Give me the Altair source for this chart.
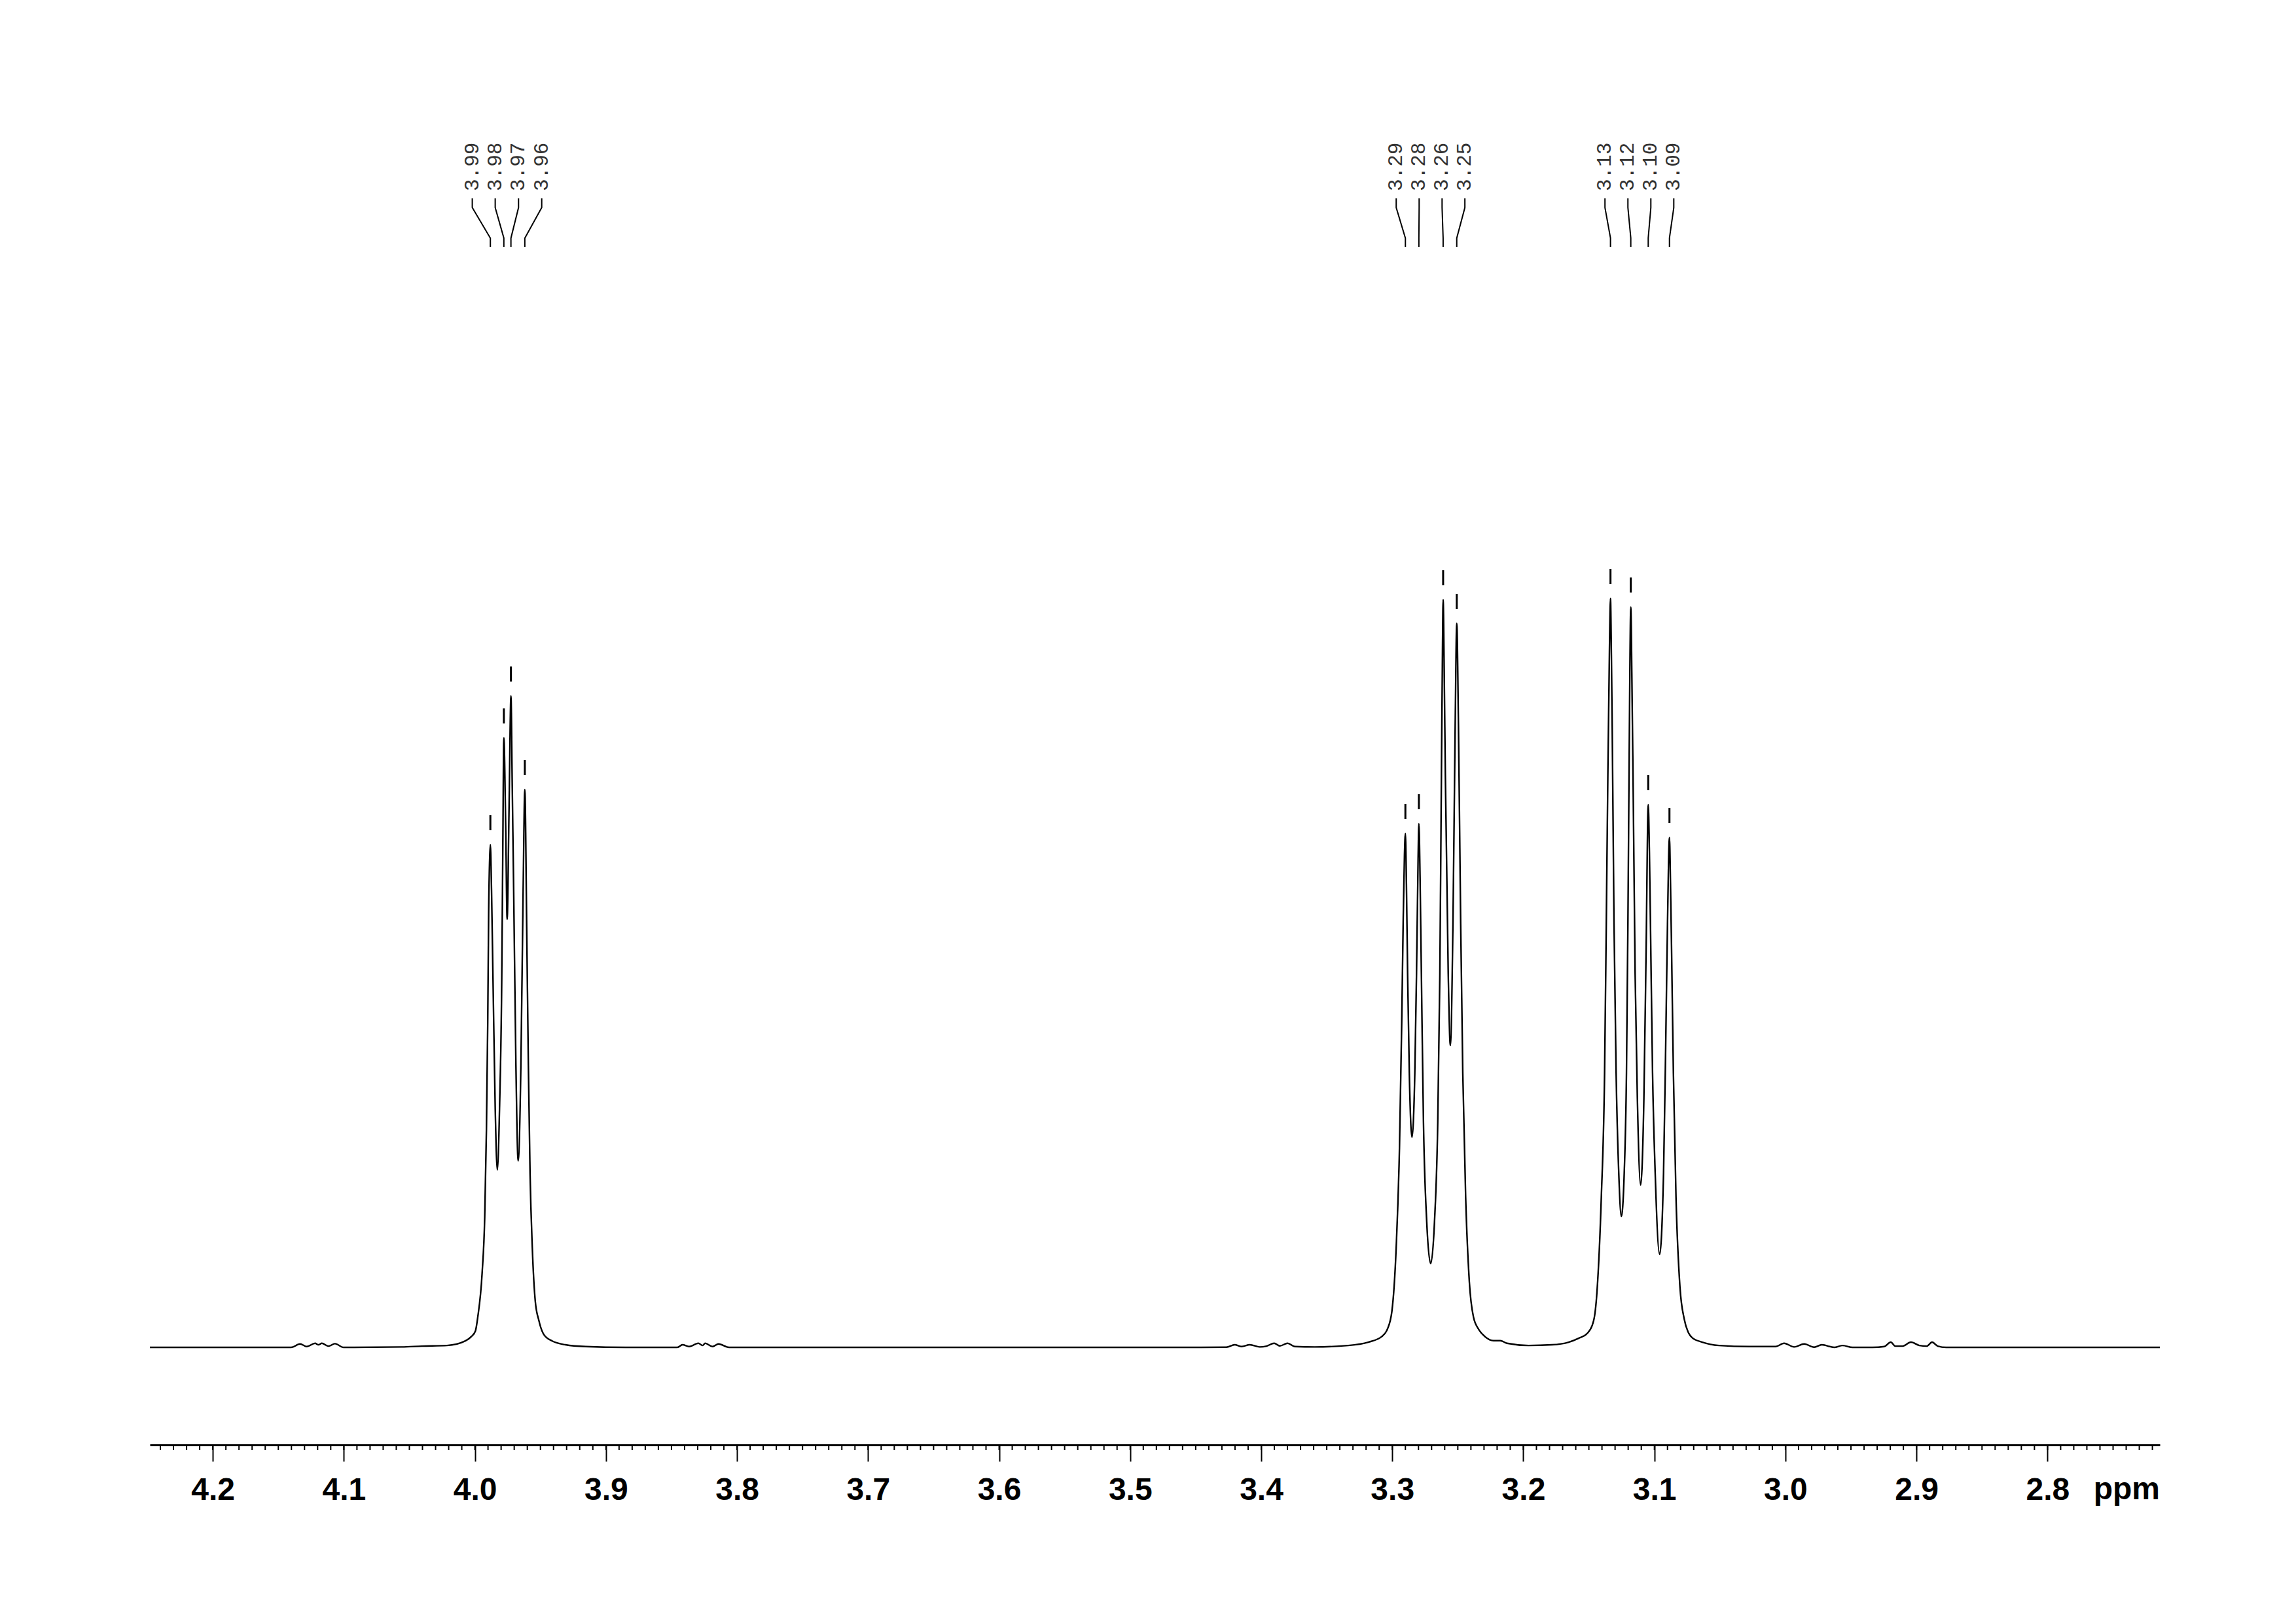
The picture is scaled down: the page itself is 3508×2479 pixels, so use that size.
import altair as alt
import pandas as pd

# ---------------- data ----------------
spec_ppm = [
    4.2480, 4.1402, 4.1334, 4.1283, 4.1219, 4.1194, 4.1168, 4.1117, 4.1067, 4.1002,
    4.0558, 4.0403, 4.0213, 4.0073, 4.0028, 3.9996, 3.9978, 3.9945, 3.9925, 3.9912,
    3.9902, 3.9895, 3.9887, 3.9882, 3.9873, 3.9862, 3.9845, 3.9829, 3.9812, 3.9795,
    3.9787, 3.9779, 3.9765, 3.9754, 3.9739, 3.9725, 3.9715, 3.9704, 3.9687, 3.9670,
    3.9649, 3.9632, 3.9619, 3.9604, 3.9592, 3.9579, 3.9562, 3.9539, 3.9512, 3.9474,
    3.9410, 3.9309, 3.9155, 3.8850,
    3.8455, 3.8416, 3.8365, 3.8295, 3.8263, 3.8243, 3.8187, 3.8141, 3.8061,
    3.4610, 3.4266, 3.4202, 3.4151, 3.4087, 3.4011, 3.3960, 3.3901, 3.3858, 3.3799, 3.3743,
    3.3591, 3.3336, 3.3183, 3.3081, 3.3037, 3.3003, 3.2970, 3.2945, 3.2928, 3.2917, 3.2907,
    3.2900, 3.2892, 3.2883, 3.2870, 3.2850, 3.2828, 3.2815, 3.2803, 3.2797, 3.2788, 3.2778,
    3.2762, 3.2737, 3.2707, 3.2678, 3.2653, 3.2637, 3.2625, 3.2617, 3.2612, 3.2604, 3.2595,
    3.2573, 3.2557, 3.2537, 3.2520, 3.2508, 3.2495, 3.2478, 3.2462, 3.2440, 3.2412, 3.2380,
    3.2342, 3.2291, 3.2227, 3.2176, 3.2125, 3.1960, 3.1781, 3.1654, 3.1578, 3.1513, 3.1463,
    3.1438, 3.1405, 3.1380, 3.1367, 3.1355, 3.1343, 3.1335, 3.1328, 3.1322, 3.1308, 3.1292,
    3.1272, 3.1252, 3.1230, 3.1213, 3.1202, 3.1192, 3.1180, 3.1172, 3.1163, 3.1147, 3.1130,
    3.1105, 3.1080, 3.1063, 3.1047, 3.1038, 3.1030, 3.1014, 3.0994, 3.0960, 3.0930, 3.0914,
    3.0900, 3.0885, 3.0877, 3.0869, 3.0855, 3.0835, 3.0805, 3.0772, 3.0739, 3.0711, 3.0634,
    3.0507, 3.0278, 3.0075, 3.0010, 2.9934, 2.9857, 2.9781, 2.9722, 2.9628, 2.9564, 2.9488,
    2.9336, 2.9246, 2.9196, 2.9162, 2.9106, 2.9042, 2.8978, 2.8922, 2.8881, 2.8838, 2.8774,
    2.7143,
]
spec_int = [
    0.00, 0.00, 0.46, 0.11, 0.55, 0.35, 0.55, 0.17, 0.50, 0.00,
    0.06, 0.17, 0.26, 0.87, 1.44, 2.19, 4.06, 9.88, 17.40, 29.02,
    43.48, 57.97, 65.51, 67.13, 61.01, 49.30, 31.91, 23.69, 31.91, 49.30,
    66.70, 81.38, 69.58, 57.17, 72.38, 86.98, 75.00, 60.87, 37.67, 24.91,
    37.67, 60.87, 74.48, 55.07, 37.67, 23.16, 13.33, 6.12, 3.61, 1.72,
    0.85, 0.35, 0.11, 0.00,
    0.00, 0.35, 0.11, 0.55, 0.26, 0.55, 0.11, 0.46, 0.00,
    0.00, 0.03, 0.35, 0.11, 0.35, 0.06, 0.17, 0.55, 0.20, 0.55, 0.11,
    0.06, 0.26, 0.70, 1.43, 2.45, 4.81, 13.41, 26.68, 43.27, 56.56, 65.82,
    68.62, 61.89, 49.91, 36.63, 28.06, 36.63, 49.91, 65.16, 69.93, 62.76, 49.91,
    30.00, 16.73, 11.19, 16.73, 30.00, 49.91, 76.43, 93.02, 99.83, 90.73, 76.43,
    49.91, 40.30, 56.56, 83.07, 96.68, 83.07, 56.56, 36.63, 20.04, 8.77, 4.02,
    2.45, 1.42, 0.90, 0.90, 0.55, 0.26, 0.35, 0.70, 1.22, 1.86, 3.61,
    7.44, 20.04, 36.63, 56.56, 76.43, 93.02, 100.00, 92.48, 83.07, 56.56, 36.63,
    23.36, 17.48, 23.36, 36.63, 56.56, 79.76, 98.86, 89.86, 76.43, 49.91, 33.30,
    21.68, 33.30, 53.23, 72.47, 66.26, 56.56, 36.63, 23.36, 12.41, 23.36, 39.95,
    56.56, 68.09, 61.89, 53.23, 36.63, 20.04, 8.10, 3.76, 1.92, 1.28, 0.70,
    0.26, 0.11, 0.11, 0.55, 0.06, 0.46, 0.03, 0.35, 0.00, 0.26, 0.00,
    0.00, 0.11, 0.70, 0.17, 0.17, 0.70, 0.26, 0.17, 0.70, 0.17, 0.00,
    0.00,
]

peak_labels = ["3.99", "3.98", "3.97", "3.96",
               "3.29", "3.28", "3.26", "3.25",
               "3.13", "3.12", "3.10", "3.09"]
peak_ppm = [3.9882, 3.9779, 3.9725, 3.9619,
            3.2900, 3.2797, 3.2612, 3.2508,
            3.1335, 3.1180, 3.1047, 3.0885]
peak_int = [67.13, 81.38, 86.98, 74.48,
            68.62, 69.93, 99.83, 96.68,
            100.00, 98.86, 72.47, 68.09]
label_ppm = [4.0020, 3.9845, 3.9667, 3.9490,
             3.2970, 3.2795, 3.2620, 3.2446,
             3.1377, 3.1202, 3.1027, 3.0852]

major_ticks = [4.2, 4.1, 4.0, 3.9, 3.8, 3.7, 3.6, 3.5, 3.4, 3.3, 3.2, 3.1, 3.0, 2.9, 2.8]
minor_ticks = [round(4.24 - 0.01 * i, 2) for i in range(153)]

# ---------------- layout constants ----------------
X_DOMAIN = [2.7143, 4.248]
Y_DOMAIN = [-13.02, 179.2]
W, H = 3071, 2199
PX = H / (Y_DOMAIN[1] - Y_DOMAIN[0])  # pixels per intensity unit


def up(px):
    return px / PX


x_scale = alt.Scale(domain=X_DOMAIN, reverse=True, nice=False, zero=False)
y_scale = alt.Scale(domain=Y_DOMAIN, nice=False, zero=False)

spec_df = pd.DataFrame({"ppm": spec_ppm, "inten": spec_int, "idx": list(range(len(spec_int)))})
peaks_df = pd.DataFrame({"ppm": peak_ppm, "inten": peak_int})
labels_df = pd.DataFrame({"ppm": label_ppm, "label": peak_labels})

# connectors from label column to peak
TOP = 154.37 - up(11)
rows = []
for i, (lp, pp) in enumerate(zip(label_ppm, peak_ppm)):
    rows.append({"id": i, "k": 0, "ppm": lp, "inten": TOP})
    rows.append({"id": i, "k": 1, "ppm": lp, "inten": TOP - up(14)})
    rows.append({"id": i, "k": 2, "ppm": pp, "inten": TOP - up(60.6)})
    rows.append({"id": i, "k": 3, "ppm": pp, "inten": TOP - up(74)})
conn_df = pd.DataFrame(rows)

minor_df = pd.DataFrame({"ppm": minor_ticks})
ppm_df = pd.DataFrame({"ppm": [X_DOMAIN[0]], "inten": [Y_DOMAIN[0] - up(83)], "t": ["ppm"]})

x_axis = alt.Axis(values=major_ticks, format=".1f", tickSize=25, tickWidth=2,
                  tickColor="black", domainColor="black", domainWidth=3,
                  labelFont="Liberation Sans", labelFontWeight="bold", labelFontSize=48,
                  labelColor="black", labelPadding=20, grid=False, title=None,
                  labelFlush=False, labelOverlap=False)

X = alt.X("ppm:Q", scale=x_scale, axis=x_axis)
X_plain = alt.X("ppm:Q", scale=x_scale, title=None)

spectrum = alt.Chart(spec_df).mark_line(color="black", strokeWidth=2.4, interpolate="monotone").encode(
    x=X,
    y=alt.Y("inten:Q", scale=y_scale, axis=None),
    order=alt.Order("idx:Q"),
)

minor = alt.Chart(minor_df).transform_calculate(
    y0=str(Y_DOMAIN[0]), y1=str(Y_DOMAIN[0] - up(8))
).mark_rule(color="black", strokeWidth=2).encode(
    x=X_plain,
    y=alt.Y("y0:Q", scale=y_scale, axis=None),
    y2="y1:Q",
)

peak_marks = alt.Chart(peaks_df).transform_calculate(
    a=f"datum.inten + {up(22)}", b=f"datum.inten + {up(45)}"
).mark_rule(color="black", strokeWidth=3).encode(
    x=X_plain,
    y=alt.Y("a:Q", scale=y_scale, axis=None),
    y2="b:Q",
)

connectors = alt.Chart(conn_df).mark_line(color="black", strokeWidth=2).encode(
    x=X_plain,
    y=alt.Y("inten:Q", scale=y_scale, axis=None),
    detail="id:N",
    order=alt.Order("k:Q"),
)

labels = alt.Chart(labels_df).transform_calculate(
    ty="154.37"
).mark_text(angle=270, align="left", baseline="middle", font="Liberation Mono",
            fontSize=31, color="#333333").encode(
    x=X_plain,
    y=alt.Y("ty:Q", scale=y_scale, axis=None),
    text="label:N",
)

ppm_text = alt.Chart(ppm_df).mark_text(align="right", baseline="alphabetic",
                                       font="Liberation Sans", fontWeight="bold",
                                       fontSize=48, color="black").encode(
    x=X_plain,
    y=alt.Y("inten:Q", scale=y_scale, axis=None),
    text="t:N",
)

chart = alt.layer(spectrum, minor, peak_marks, connectors, labels, ppm_text).properties(
    width=W, height=H,
    padding={"left": 216, "top": 0, "right": 10, "bottom": 10},
    background="white",
).configure_view(strokeWidth=0)

chart.save("out.html", embed_options={"renderer": "svg", "actions": False})
